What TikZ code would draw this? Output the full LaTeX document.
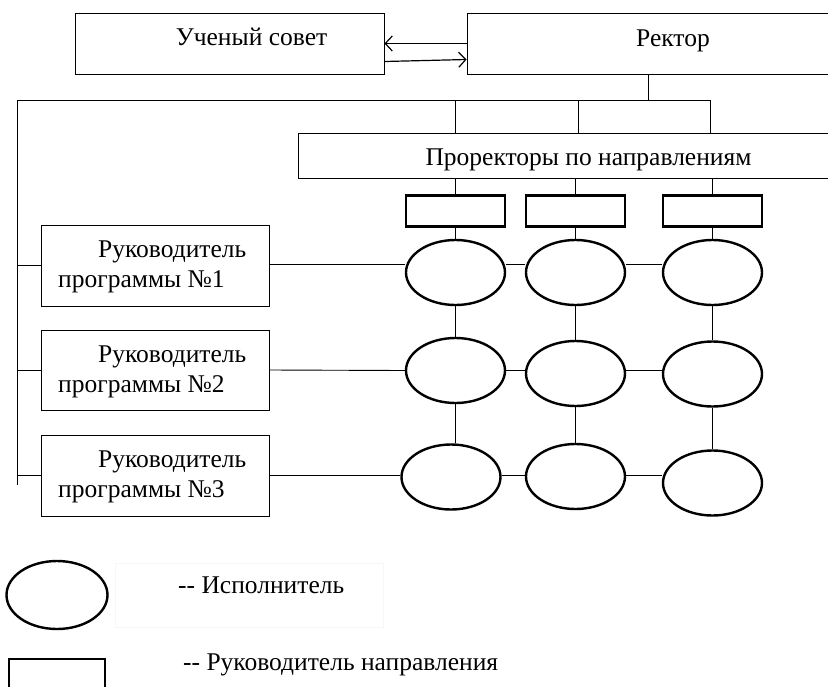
\documentclass[tikz,border=0pt]{standalone}
\usepackage{fontspec}
\setmainfont{Liberation Serif}
\newfontfamily\tnr{Liberation Serif}
\usetikzlibrary{shapes.geometric,arrows.meta}
\begin{document}
\begin{tikzpicture}[x=1pt,y=-1pt,
  every node/.style={font=\tnr\fontsize{25.5}{30}\selectfont},
  box/.style={draw, line width=0.9pt, rectangle, inner sep=0pt},
  txt/.style={inner sep=0pt, anchor=base},
  ltxt/.style={inner sep=0pt, anchor=base west},
  dir/.style={draw, line width=2.4pt, rectangle, inner sep=0pt, minimum width=99pt, minimum height=31pt},
  ex/.style={draw, line width=2.4pt, ellipse, inner sep=0pt, minimum width=99pt, minimum height=65pt},
  ln/.style={line width=0.9pt},
  arr/.style={line width=1.2pt, -{Straight Barb[length=7pt,width=15pt,line width=1.2pt]}}]
\useasboundingbox (0,0) rectangle (828,686);
% top boxes
\node[box, minimum width=309pt, minimum height=61pt] (us) at (229.5,43.5) {};
\node[txt] (ust) at (251.5,45) {Ученый совет};
\node[box, minimum width=362pt, minimum height=61pt] (rek) at (648,43.5) {};
\node[txt] (rekt) at (673,46) {Ректор};
\draw[arr] (rek.west) -- (us.east);
\draw[arr] ([yshift=-18pt]us.east) -- ([yshift=-16pt]rek.west);
% main bus
\coordinate (hl) at (17,100);
\coordinate (hr) at (710,100);
\coordinate (hb) at (17,485);
\draw[ln] (rek.south) -- (rek.south |- hl);
\draw[ln] (hb) -- (hl) -- (hr);
% prorectors
\node[box, minimum width=530pt, minimum height=45pt] (pro) at (563,155.5) {};
\node[txt] (prot) at (588.5,165) {Проректоры по направлениям};
\foreach \x in {455,578,710} \draw[ln] (\x,100) -- (\x,133);
% direction heads
\node[dir] (d1) at (455.5,211) {};
\node[dir] (d2) at (575.5,211) {};
\node[dir] (d3) at (712.5,211) {};
\draw[ln] (pro.south -| d1.north) -- (d1.north);
\draw[ln] (pro.south -| d2.north) -- (d2.north);
\draw[ln] (pro.south -| d3.north) -- (d3.north);
% executors
\node[ex] (e11) at (455.5,272.5) {};
\node[ex] (e12) at (575.5,272.5) {};
\node[ex] (e13) at (712.5,272.5) {};
\node[ex] (e21) at (455.5,370.5) {};
\node[ex] (e22) at (575.5,373.5) {};
\node[ex] (e23) at (712.5,374) {};
\node[ex] (e31) at (451,477) {};
\node[ex] (e32) at (575.5,476.5) {};
\node[ex] (e33) at (712.5,483) {};
\foreach \c in {1,2,3}{
  \draw[ln] (d\c.south) -- (e1\c.north);
  \draw[ln] (e1\c.south) -- (e2\c.north);
}
\draw[ln] (e21.south) -- (e21.south |- e31.north);
\draw[ln] (e22.south) -- (e32.north);
\draw[ln] (e23.south) -- (e33.north);
% program managers
\node[box, minimum width=228pt, minimum height=81pt] (r1) at (155,265.5) {};
\node[box, minimum width=228pt, minimum height=80pt] (r2) at (155,370) {};
\node[box, minimum width=228pt, minimum height=81pt] (r3) at (155,475.5) {};
\node[ltxt] (r1a) at (98,257) {Руководитель};
\node[ltxt] (r1b) at (58,287) {программы №1};
\node[ltxt] (r2a) at (98,362) {Руководитель};
\node[ltxt] (r2b) at (58,392) {программы №2};
\node[ltxt] (r3a) at (98,467) {Руководитель};
\node[ltxt] (r3b) at (58,497) {программы №3};
\foreach \r in {1,2,3}{
  \draw[ln] (r\r.west -| hl) -- (r\r.west);
}
\draw[ln] ([yshift=1.5pt]r1.east) -- ([yshift=1.5pt]r1.east -| e11.west);
\draw[ln] ([yshift=1.5pt]r1.east -| e11.east) -- ([yshift=1.5pt]r1.east -| e12.west);
\draw[ln] ([yshift=1.5pt]r1.east -| e12.east) -- ([yshift=1.5pt]r1.east -| e13.west);
\draw[ln] (r2.east) -- (e21.west);
\draw[ln] (e21.east) -- (e22.west |- e21.east);
\draw[ln] (e22.east |- e21.east) -- (e23.west |- e21.east);
\draw[ln] (r3.east) -- (r3.east -| e31.west);
\draw[ln] (e31.east |- r3.east) -- (e32.west |- r3.east);
\draw[ln] (e32.east |- r3.east) -- (r3.east -| e33.west);
% legend
\node[draw=black!3, line width=0.5pt, minimum width=268pt, minimum height=64pt, inner sep=0pt] (lgF) at (249,595) {};
\node[ex, minimum width=101pt, minimum height=68pt] (lgE) at (57,595) {};
\node[ltxt] (lgEt) at (178,593) {-\kern0pt- Исполнитель};
\node[dir, minimum width=96pt, minimum height=40pt] (lgD) at (57,679) {};
\node[ltxt] (lgDt) at (183,670) {-\kern0pt- Руководитель направления};
\end{tikzpicture}
\end{document}
